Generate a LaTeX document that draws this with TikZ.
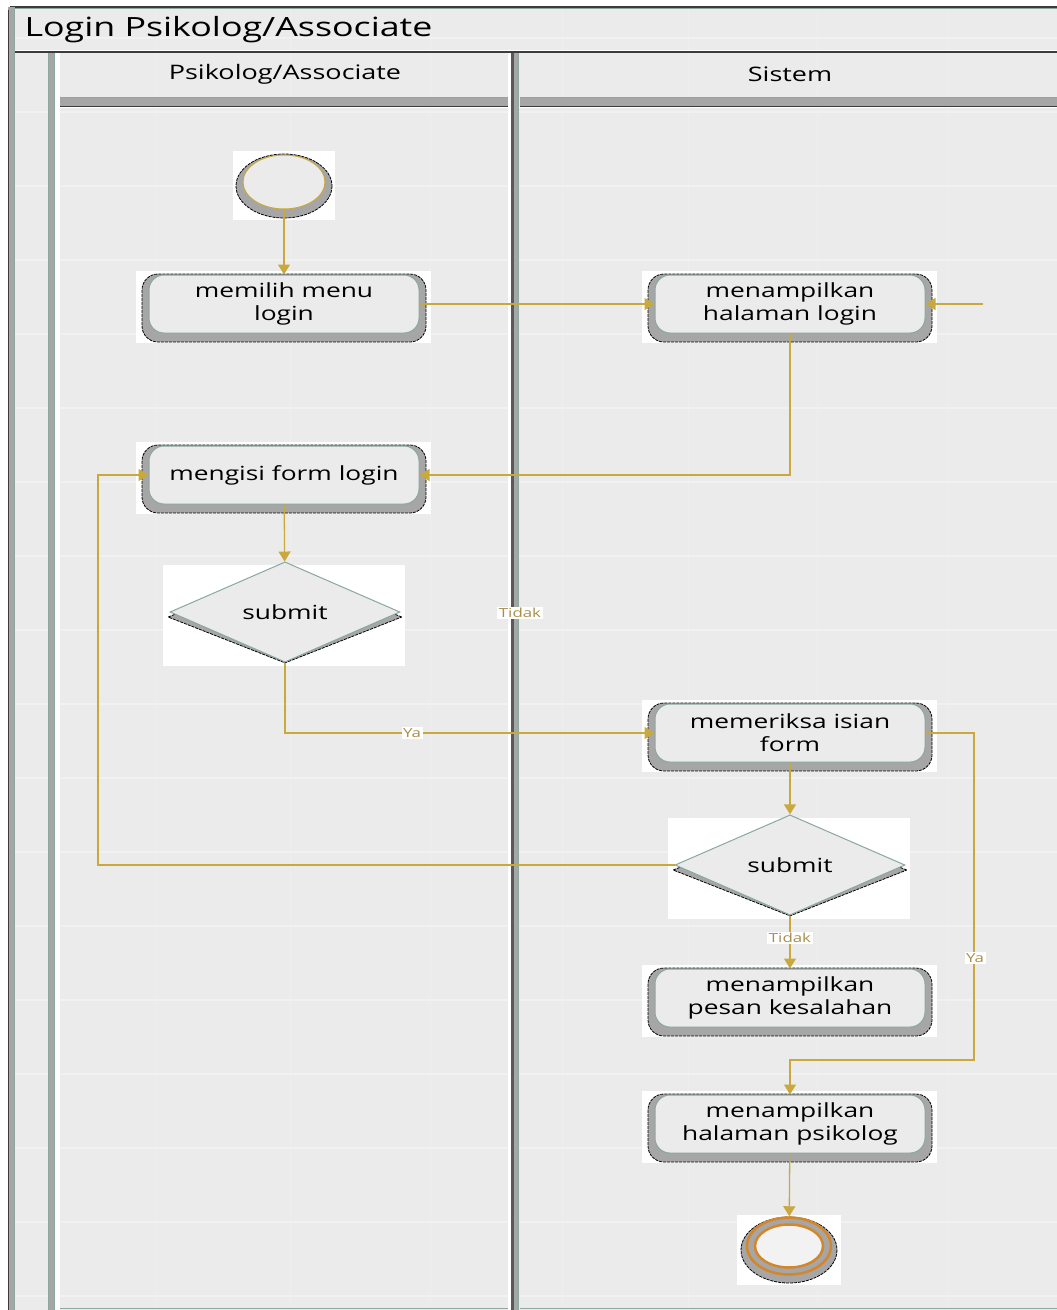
\documentclass[tikz,border=0pt]{standalone}
\usepackage{fontspec}
\setmainfont{Open Sans}[FakeStretch=1.35]
\usetikzlibrary{arrows.meta,shapes.geometric}

\definecolor{paper}{HTML}{EBEBEB}
\definecolor{gridc}{HTML}{F1F1F1}
\definecolor{gridv}{HTML}{EEEEEE}
\definecolor{gold}{HTML}{C9A83E}
\definecolor{labgold}{HTML}{A88F4C}
\definecolor{teal}{HTML}{8AA89E}
\definecolor{shadowg}{HTML}{A6A6A6}
\definecolor{dark}{HTML}{3C3C3C}
\definecolor{ringc}{HTML}{D4862A}
\definecolor{innerc}{HTML}{F2F2F2}

% activity box: white backing, bevel shadow, then the named node on top
\newcommand\activity[4]{%
  \fill[white] (#2-148,#3-33) rectangle (#2+147,#3+39);
  \filldraw[bevel, rounded corners=16] (#2-142,#3-30) rectangle (#2+142,#3+38);
  \node[act] (#1) at (#2,#3) {#4};
}
% decision diamond with its backing and shadow
\newcommand\decision[4]{%
  \fill[white] (#2-122,#3-47) rectangle (#2+120,#3+54);
  \node[dec, bevel, minimum width=234, minimum height=92] at (#2,#3+5) {};
  \node[dec, draw=teal, fill=paper] (#1) at (#2,#3) {#4};
}

\begin{document}
\begin{tikzpicture}[x=1pt,y=-1pt,
  bevel/.style={fill=shadowg, draw=black, line width=0.8, dash pattern=on 3pt off 1pt},
  act/.style={draw=teal, line width=1, fill=paper, rounded corners=15,
    minimum width=270, minimum height=58, align=center, inner sep=0,
    font=\fontsize{19.5}{23}\selectfont},
  dec/.style={diamond, minimum width=230, minimum height=89, inner sep=0,
    line width=1, font=\fontsize{19.5}{23}\selectfont},
  conn/.style={draw=gold, line width=1.3, -{Triangle[width=12pt,length=10pt]}},
  lab/.style={fill=white, text=labgold, inner sep=1.5, font=\fontsize{12.5}{14}\selectfont},
  bar/.style={fill=shadowg},
  gridline/.style={draw=gridc, line width=1.1},
  gridlinev/.style={draw=gridv, line width=1}]

\useasboundingbox (0,0) rectangle (1057,1310);
\fill[white] (0,0) rectangle (1057,1310);

% pool surface and faint grid
\fill[paper] (8,7) rectangle (1057,1310);
\foreach \gx in {155,290,430,562,688,817,947}
  \draw[gridlinev] (\gx,8) -- (\gx,1308);
\draw[gridline] (15,38) -- (1057,38);
\foreach \gy in {112,186,...,1296}
  \draw[gridline] (15,\gy) -- (1057,\gy);

% pool frame and title band
\draw[dark, line width=1.5] (10,7) -- (1057,7);
\draw[teal, line width=1] (15,8.5) -- (1057,8.5);
\fill[white] (15,49.5) rectangle (1057,51.5);
\draw[dark, line width=1.3] (15,52) -- (1057,52);
\fill[bar] (8,7) rectangle (15,1310);
\draw[teal, line width=1] (14.5,8) -- (14.5,1310);
\draw[dark, line width=0.8] (8.4,10) -- (8.4,1310);
\node[anchor=west, font=\fontsize{26.5}{30}\selectfont] (title) at (21,30) {Login Psikolog/Associate};

% left header column of the pool
\fill[bar] (48,53) rectangle (55,1310);
\draw[teal, line width=1] (48.5,53) -- (48.5,1310);
\draw[teal, line width=1] (54.5,53) -- (54.5,1310);
\fill[white] (55,53) rectangle (60,1310);

% lane headers
\foreach \xa/\xb in {60/508, 520/1057}{
  \fill[bar] (\xa,97) rectangle (\xb,106);
  \draw[teal, line width=1.2] (\xa,97.5) -- (\xb,97.5);
  \draw[dark, line width=1] (\xa,106) -- (\xb,106);
  \fill[white] (\xa,106.5) rectangle (\xb,108);
  \draw[teal, line width=1] (\xa,1308) -- (\xb,1308);
}
% lane separator
\fill[white] (508,53) rectangle (511,1310);
\fill[dark!85] (511,53) rectangle (514,1310);
\fill[bar] (514,53) rectangle (518,1310);
\draw[teal, line width=1.2] (518.5,53) -- (518.5,1310);
\fill[white] (519,106.5) rectangle (520,108);

\node[font=\fontsize{20}{23}\selectfont] (laneA) at (285,74) {Psikolog/Associate};
\node[font=\fontsize{20}{23}\selectfont] (laneB) at (790,74) {Sistem};

% initial state
\fill[white] (233,151) rectangle (335,220);
\filldraw[bevel] (284,186) ellipse (48 and 32);
\node[ellipse, draw=gold, line width=1, fill=paper, minimum width=82, minimum height=54, inner sep=0] (start) at (284,182) {};

% activities
\activity{memilih}{284}{304}{memilih menu\\login}
\activity{login}{790}{304}{menampilkan\\halaman login}
\activity{mengisi}{284}{475}{mengisi form login}
\decision{submitA}{285}{612}{submit}
\activity{periksa}{790}{733}{memeriksa isian\\form}
\decision{submitB}{790}{865}{submit}
\activity{pesan}{790}{998}{menampilkan\\pesan kesalahan}
\activity{psikolog}{790}{1124}{menampilkan\\halaman psikolog}

% final state
\fill[white] (737,1215) rectangle (841,1285);
\filldraw[bevel] (789,1250) ellipse (48 and 33);
\node[ellipse, draw=ringc, line width=2.5, fill=shadowg, minimum width=84, minimum height=57, inner sep=0] (end) at (789,1246) {};
\filldraw[draw=ringc, line width=2.5, fill=innerc] (end.center) ellipse (34 and 21.5);

% flows
\coordinate (ext) at (983,304);
\coordinate (loop) at (98,865);
\coordinate (yaTurn) at (974,1060);

\draw[conn] (start) -- (memilih);
\draw[conn] (memilih) -- (login);
\draw[conn] (ext) -- (login);
\draw[conn] (login.south) |- (mengisi.east);
\draw[conn] (mengisi) -- (submitA);
\draw[conn] (submitA.south) |- (periksa.west);
\draw[conn] (submitB.west) -- (loop) |- (mengisi.west);
\draw[conn] (periksa) -- (submitB);
\draw[conn] (submitB) -- (pesan);
\draw[conn] (periksa.east) -| (yaTurn) -| (psikolog.north);
\draw[conn] (psikolog) -- (end);

% flow labels
\node[lab] (yaA) at (412,733) {Ya};
\node[lab] (tidakA) at (520,613) {Tidak};
\node[lab] (tidakB) at (790,938) {Tidak};
\node[lab] (yaB) at (975,958) {Ya};

\end{tikzpicture}
\end{document}
